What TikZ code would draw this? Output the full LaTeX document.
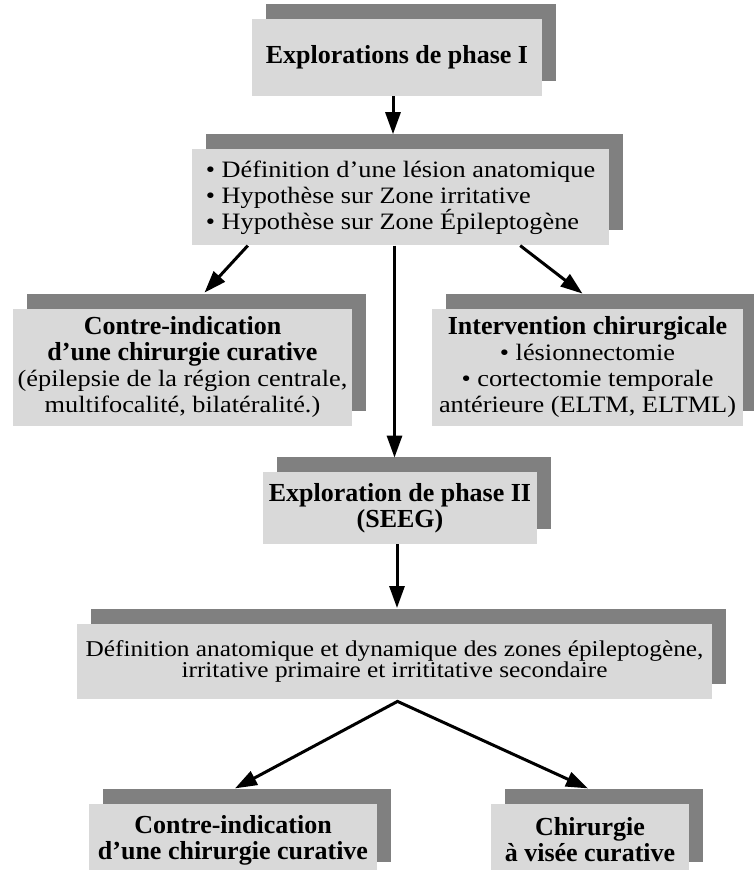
\documentclass[tikz,border=0pt]{standalone}
\usepackage{fontspec}
\setmainfont{Liberation Serif}
\newfontfamily\widerm{Liberation Serif}[FakeStretch=1.12]
\usetikzlibrary{positioning,arrows.meta,shadows}
\definecolor{boxgray}{RGB}{217,217,217}
\definecolor{shadegray}{RGB}{128,128,128}
\newcommand{\hd}{\rmfamily\bfseries\fontsize{26}{26}\selectfont}
\tikzset{
  >={Triangle[length=22pt,width=15pt]},
  box/.style  ={rectangle, fill=boxgray, draw=none, align=center, inner sep=0pt,
                font=\widerm\fontsize{23.5}{26}\selectfont,
                drop shadow={shadow xshift=14pt, shadow yshift=15pt,
                             fill=shadegray, opacity=1}},
  arr/.style  ={->, line width=3pt, draw=black},
}

\begin{document}
\begin{tikzpicture}[x=1pt,y=1pt]
  \useasboundingbox (0,0) rectangle (754,-870);

  % phase I
  \node[box, minimum width=290pt, minimum height=77pt] (phaseI) at (397,-57.5)
       {\hd Explorations de phase I};
  \node[box, below=53pt of phaseI, xshift=3.5pt, minimum width=417pt,
        minimum height=96pt, align=left] (hypo)
       {• Définition d’une lésion anatomique\\• Hypothèse sur Zone irritative\\• Hypothèse sur Zone Épileptogène};

  % outcomes of phase I
  \node[box, below=63pt of hypo, xshift=-218pt, minimum width=339pt,
        minimum height=117pt] (contre)
       {{\hd Contre-indication}\\{\hd d’une chirurgie curative}\\(épilepsie de la région centrale,\\multifocalité, bilatéralité.)};
  \node[box, below=63pt of hypo, xshift=187pt, minimum width=311pt,
        minimum height=117pt] (interv)
       {{\hd Intervention chirurgicale}\\• lésionnectomie\\• cortectomie temporale\\antérieure (ELTM, ELTML)};

  % phase II
  \node[box, below=226pt of hypo, xshift=-0.5pt, minimum width=274pt,
        minimum height=72pt] (phaseII)
       {{\hd Exploration de phase II}\\{\hd (SEEG)}};
  \node[box, below=80pt of phaseII, xshift=-5.5pt, minimum width=635pt,
        minimum height=75pt, font=\widerm\fontsize{22.6}{21}\selectfont] (zones)
       {Définition anatomique et dynamique des zones épileptogène,\\irritative primaire et irrititative secondaire};

  % outcomes of phase II
  \node[box, below=104pt of zones, xshift=-161.5pt, minimum width=288pt,
        minimum height=73pt] (contreII)
       {{\hd Contre-indication}\\{\hd d’une chirurgie curative}};
  \node[box, below=104pt of zones, xshift=195.5pt, minimum width=198pt,
        minimum height=73pt] (chir)
       {{\hd Chirurgie}\\{\hd à visée curative}};

  % arrows
  \coordinate (phaseIout) at ([xshift=-4pt]phaseI.south);
  \draw[arr, shorten >=15pt] (phaseIout) -- (phaseIout |- hypo.north);
  \draw[arr] ([xshift=56pt]hypo.south west) -- ([shift={(22pt,16pt)}]contre.north);
  \draw[arr] ([xshift=-89pt]hypo.south east) -- ([shift={(-5pt,15pt)}]interv.north);
  \coordinate (hypoout) at ([xshift=-6pt]hypo.south);
  \draw[arr, shorten >=14pt] (hypoout) -- (hypoout |- phaseII.north);
  \coordinate (phaseIIout) at ([xshift=-3pt]phaseII.south);
  \draw[arr, shorten >=16pt] (phaseIIout) -- (phaseIIout |- zones.north);
  \coordinate (split) at ([xshift=3pt,yshift=-2pt]zones.south);
  \draw[arr, <->] ([shift={(2pt,15pt)}]contreII.north) -- (split)
       -- ([shift={(-2pt,15pt)}]chir.north);
\end{tikzpicture}
\end{document}
